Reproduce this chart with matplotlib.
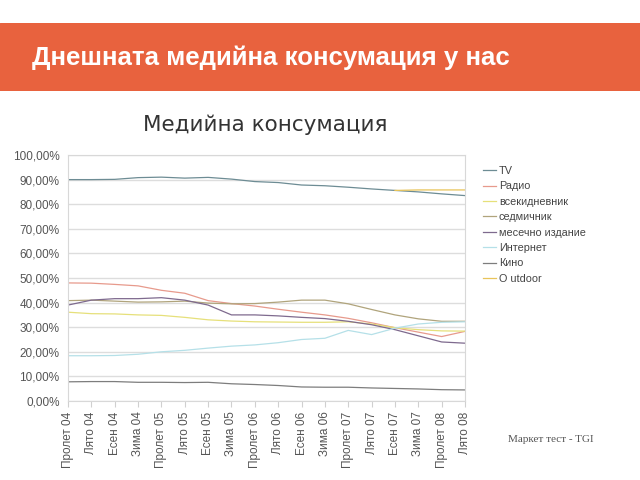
import numpy as np
import matplotlib.pyplot as plt
from matplotlib.ticker import FuncFormatter

seasons = ["Пролет 04", "Лято 04", "Есен 04", "Зима 04", "Пролет 05", "Лято 05",
           "Есен 05", "Зима 05", "Пролет 06", "Лято 06", "Есен 06", "Зима 06",
           "Пролет 07", "Лято 07", "Есен 07", "Зима 07", "Пролет 08", "Лято 08"]

tv = [90.0, 90.0, 90.1, 90.8, 91.0, 90.6, 90.9, 90.2, 89.2, 88.8, 87.8, 87.5,
      86.9, 86.2, 85.6, 85.0, 84.2, 83.5]
radio = [48.0, 47.9, 47.4, 46.8, 45.0, 43.8, 40.8, 39.6, 38.6, 37.3, 36.1, 35.0,
         33.6, 31.8, 29.8, 28.0, 26.2, 28.3]
daily = [36.1, 35.5, 35.4, 35.0, 34.8, 34.0, 33.0, 32.5, 32.2, 32.1, 32.0, 32.0,
         32.2, 31.3, 29.8, 29.0, 28.5, 28.4]
weekly = [40.8, 41.0, 40.6, 40.2, 40.3, 40.6, 39.8, 39.5, 39.6, 40.2, 41.0, 41.0,
          39.5, 37.2, 35.0, 33.4, 32.4, 32.4]
monthly = [39.0, 41.0, 41.6, 41.6, 42.0, 41.0, 39.0, 35.0, 35.0, 34.6, 34.0, 33.5,
           32.4, 31.0, 29.0, 26.5, 24.0, 23.5]
internet = [18.4, 18.4, 18.5, 19.0, 20.0, 20.6, 21.5, 22.3, 22.8, 23.7, 25.0, 25.5,
            28.7, 27.0, 29.6, 31.3, 32.0, 32.2]
cinema = [7.8, 7.9, 7.9, 7.6, 7.6, 7.5, 7.6, 7.0, 6.7, 6.3, 5.7, 5.6, 5.6, 5.3,
          5.1, 4.9, 4.6, 4.5]
outdoor = [np.nan] * 14 + [85.6, 85.8, 85.8, 85.8]

names = ["TV", "Радио", "всекидневник", "седмичник", "месечно издание",
         "Интернет", "Кино", "O utdoor"]
series = [tv, radio, daily, weekly, monthly, internet, cinema, outdoor]
colors = ["#6d8c94", "#e79a8c", "#e6e07a", "#b0a47c", "#7e6a8e",
          "#b5e0e8", "#7d7d7d", "#e8c45a"]

plt.rcParams['font.family'] = ['Liberation Sans', 'DejaVu Sans']

fig = plt.figure(figsize=(6.4, 4.8), dpi=100)

# orange header band
band = fig.add_axes([0, 1 - 91 / 480, 1, 68 / 480])
band.set_axis_off()
band.add_patch(plt.Rectangle((0, 0), 1, 1, color="#e8623e", transform=band.transAxes))
fig.text(32 / 640, 1 - 58 / 480, "Днешната медийна консумация у нас",
         color="white", fontsize=18.6, fontweight="bold", va="center", ha="left")

ax = fig.add_axes([68 / 640, 1 - 401 / 480, (465 - 68) / 640, (401 - 155) / 480])
x = np.arange(len(seasons))
for vals, name, c in zip(series, names, colors):
    ax.plot(x, np.array(vals) / 100, color=c, lw=0.9, label=name)

ax.set_xlim(0, len(seasons) - 1)
ax.set_ylim(0, 1)
ax.set_yticks(np.linspace(0, 1, 11))
ax.yaxis.set_major_formatter(FuncFormatter(lambda v, p: f"{v * 100:.2f}%".replace(".", ",")))
ax.set_xticks(x)
ax.set_xticklabels(seasons, rotation=90)
ax.grid(axis="y", color="#dddddd", lw=1)
ax.set_axisbelow(True)
for s in ["left", "right", "bottom", "top"]:
    ax.spines[s].set_color("#d8d8d8")
ax.tick_params(axis="both", colors="#d0d0d0", labelcolor="#555555", labelsize=8.5, length=4)
ax.tick_params(axis="y", length=0, pad=6)

fig.text(265 / 640, 1 - 125 / 480, "Медийна консумация", fontsize=15.5,
         color="#333333", ha="center", va="center", family=["DejaVu Sans"])

leg = ax.legend(loc="upper left", bbox_to_anchor=(1.02, 0.995), frameon=False,
                fontsize=7.8, handlelength=1.2, handletextpad=0.3, labelspacing=0.5,
                labelcolor="#444444")

fig.text(508 / 640, 1 - 440 / 480, "Маркет тест - TGI", fontsize=8, color="#555555",
         family=["Liberation Serif"], va="center")

fig.savefig("out.png", dpi=100)
